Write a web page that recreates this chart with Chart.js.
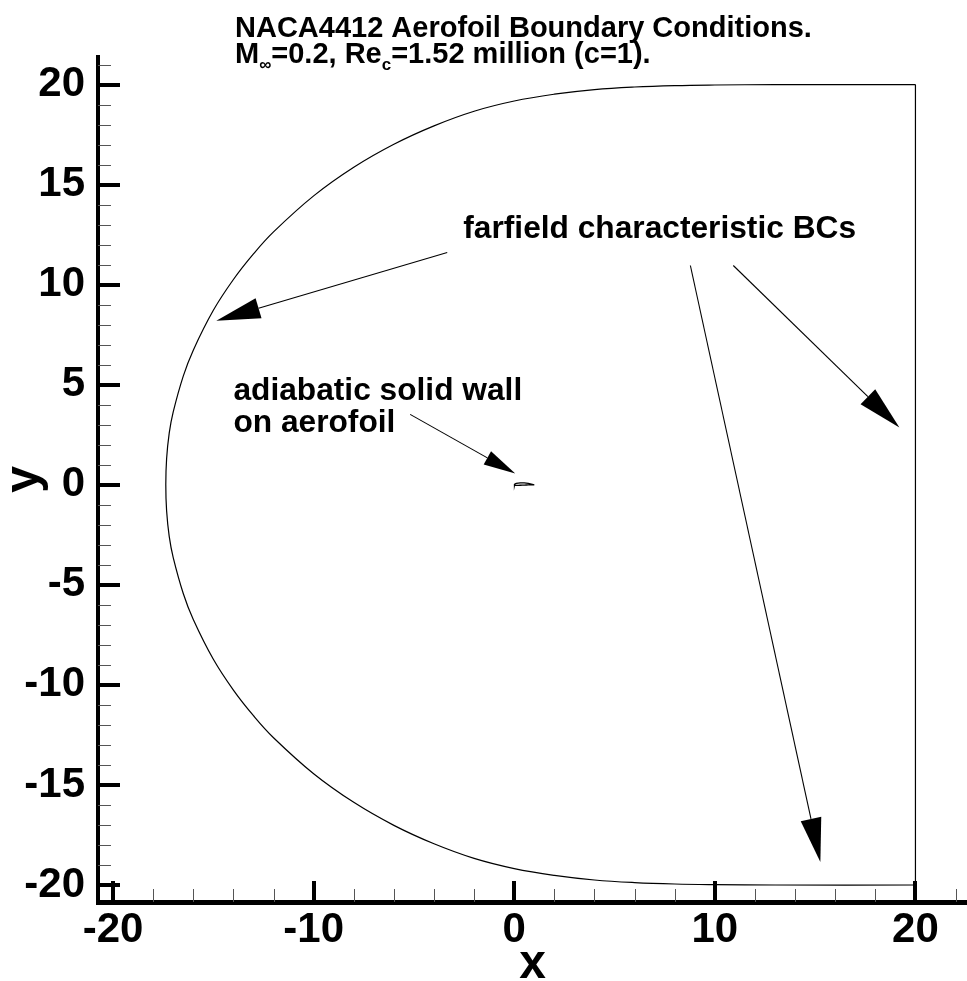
<!DOCTYPE html>
<html><head><meta charset="utf-8">
<script src="https://cdn.jsdelivr.net/npm/chart.js@4.4.0/dist/chart.umd.min.js"></script>
<style>html,body{margin:0;padding:0;background:#fff;overflow:hidden}</style>
</head><body>
<canvas id="c" width="967" height="981" style="display:block;width:967px;height:981px"></canvas>
<script>
// ---- data ----
const farfieldX = [20, 13, 10, 8, 6, 4, 2, 0, -2, -4, -6, -8, -10, -12, -13, -14, -15, -16, -16.5, -17, -17.2, -17.33, -17.37,
                   -17.33, -17.2, -17, -16.5, -16, -15, -14, -13, -12, -10, -8, -6, -4, -2, 0, 2, 4, 6, 8, 10, 13, 20];
const farfieldY = [20, 20, 19.98, 19.95, 19.88, 19.75, 19.52, 19.18, 18.67, 17.94, 17.02, 15.87, 14.44, 12.64, 11.54, 10.26, 8.72, 6.73, 5.43, 3.64, 2.58, 1.3, 0,
                   -1.3, -2.58, -3.64, -5.43, -6.73, -8.72, -10.26, -11.54, -12.64, -14.44, -15.87, -17.02, -17.94, -18.67, -19.18, -19.52, -19.75, -19.88, -19.95, -19.98, -20, -20];
const outflowX = [20, 20];
const outflowY = [-20, 20];
const airfoilX = [1, 0.9, 0.8, 0.7, 0.6, 0.5, 0.4, 0.3, 0.2, 0.1, 0.05, 0.025, 0.0125, 0, 0.0125, 0.025, 0.05, 0.1, 0.2, 0.3, 0.4, 0.5, 0.6, 0.7, 0.8, 0.9, 1];
const airfoilY = [0.0013, 0.0271, 0.0489, 0.0669, 0.0814, 0.0919, 0.0976, 0.098, 0.088, 0.0659, 0.0473, 0.0339, 0.0244, 0, -0.0143, -0.0195, -0.0249, -0.0286, -0.0274, -0.0226, -0.018, -0.014, -0.01, -0.0065, -0.0039, -0.0022, -0.0013];

const xMajorTicks = [-20, -10, 0, 10, 20];
const xMinorTicks = [-18, -16, -14, -12, -8, -6, -4, -2, 2, 4, 6, 8, 12, 14, 16, 18, 22];
const yMajorTicks = [-20, -15, -10, -5, 0, 5, 10, 15, 20];
const yMinorTicks = [-19, -18, -17, -16, -14, -13, -12, -11, -9, -8, -7, -6, -4, -3, -2, -1, 1, 2, 3, 4, 6, 7, 8, 9, 11, 12, 13, 14, 16, 17, 18, 19, 21];

const arrowStartX = [-3.34, 8.78, 10.92, -5.19];
const arrowStartY = [11.61, 10.96, 10.96, 3.52];
const arrowEndX = [-14.85, 15.26, 19.2, 0.05];
const arrowEndY = [8.2, -18.85, 2.87, 0.56];

const annotationTexts = ['farfield characteristic BCs', 'adiabatic solid wall', 'on aerofoil'];
const annotationX = [-2.54, -14.0, -14.0];
const annotationY = [12.31, 4.22, 2.62];

const titleLine1 = 'NACA4412 Aerofoil Boundary Conditions.';
const titleLine2 = [['M', false], ['\u221E', true], ['=0.2, Re', false], ['c', true], ['=1.52 million (c=1).', false]];

const FAM = '"Liberation Sans", Arial, Helvetica, sans-serif';

function pts(xs, ys) { return xs.map((v, i) => ({x: v, y: ys[i]})); }

const overlay = {
  id: 'overlay',
  afterDraw(chart) {
    const {ctx, chartArea: a, scales: {x, y}} = chart;
    ctx.save();
    // minor ticks (inward)
    ctx.strokeStyle = '#555';
    ctx.lineWidth = 1;
    ctx.beginPath();
    xMinorTicks.forEach(v => { const p = Math.round(x.getPixelForValue(v)) + 0.5; ctx.moveTo(p, a.bottom); ctx.lineTo(p, a.bottom - 13); });
    yMinorTicks.forEach(v => { const p = Math.round(y.getPixelForValue(v)) + 0.5; ctx.moveTo(a.left, p); ctx.lineTo(a.left + 13, p); });
    ctx.stroke();
    // major ticks
    ctx.strokeStyle = '#000';
    ctx.lineWidth = 4;
    ctx.beginPath();
    xMajorTicks.forEach(v => { const p = Math.round(x.getPixelForValue(v)); ctx.moveTo(p, a.bottom); ctx.lineTo(p, a.bottom - 21); });
    yMajorTicks.forEach(v => { const p = Math.round(y.getPixelForValue(v)); ctx.moveTo(a.left, p); ctx.lineTo(a.left + 22, p); });
    ctx.stroke();

    // arrows
    arrowStartX.forEach((sx, i) => {
      const x0 = x.getPixelForValue(sx), y0 = y.getPixelForValue(arrowStartY[i]);
      const x1 = x.getPixelForValue(arrowEndX[i]), y1 = y.getPixelForValue(arrowEndY[i]);
      const ang = Math.atan2(y1 - y0, x1 - x0);
      const hl = i === 3 ? 32 : 44, hw = i === 3 ? 7.5 : 10.5;
      const bx = x1 - hl * Math.cos(ang), by = y1 - hl * Math.sin(ang);
      ctx.strokeStyle = '#000'; ctx.lineWidth = 1.1;
      ctx.beginPath(); ctx.moveTo(x0, y0); ctx.lineTo(bx, by); ctx.stroke();
      ctx.fillStyle = '#000';
      ctx.beginPath();
      ctx.moveTo(x1, y1);
      ctx.lineTo(bx + hw * Math.sin(ang), by - hw * Math.cos(ang));
      ctx.lineTo(bx - hw * Math.sin(ang), by + hw * Math.cos(ang));
      ctx.closePath(); ctx.fill();
    });

    // annotation texts
    ctx.fillStyle = '#000';
    ctx.textBaseline = 'alphabetic';
    ctx.textAlign = 'left';
    ctx.font = 'bold 31.7px ' + FAM;
    annotationTexts.forEach((t, i) => {
      ctx.fillText(t, x.getPixelForValue(annotationX[i]), y.getPixelForValue(annotationY[i]));
    });

    // title
    ctx.font = 'bold 29px ' + FAM;
    ctx.fillText(titleLine1, 235, 36.5);
    let cx = 235;
    titleLine2.forEach(([t, sub]) => {
      ctx.font = (sub ? 'bold 17px ' : 'bold 29px ') + FAM;
      ctx.fillText(t, cx, sub ? 70 : 63);
      cx += ctx.measureText(t).width;
    });
    ctx.restore();
  }
};

new Chart(document.getElementById('c'), {
  type: 'scatter',
  data: {
    datasets: [
      {data: pts(farfieldX, farfieldY), showLine: true, borderColor: '#000', borderWidth: 1.2, pointRadius: 0, tension: 0.4, fill: false},
      {data: pts(outflowX, outflowY), showLine: true, borderColor: '#000', borderWidth: 1.2, pointRadius: 0, tension: 0, fill: false},
      {data: pts(airfoilX, airfoilY), showLine: true, borderColor: '#000', borderWidth: 1.3, pointRadius: 0, tension: 0, fill: false}
    ]
  },
  options: {
    responsive: false,
    animation: false,
    devicePixelRatio: 1,
    layout: {padding: {top: 57, left: 0, right: 0, bottom: 0}},
    plugins: {legend: {display: false}, tooltip: {enabled: false}, title: {display: false}},
    scales: {
      x: {
        type: 'linear', position: 'bottom', min: -20.75, max: 22.57,
        grid: {display: false, drawTicks: false},
        border: {display: true, width: 5, color: '#000'},
        ticks: {color: '#000', font: {family: FAM, size: 42, weight: 'bold'}, padding: 3, autoSkip: false, maxRotation: 0, callback: v => String(v)},
        afterBuildTicks: s => { s.ticks = xMajorTicks.map(v => ({value: v})); },
        afterFit: s => { s.height = 79; },
        title: {display: true, text: 'x', color: '#000', font: {family: FAM, size: 48, weight: 'bold'}, padding: {top: 0, bottom: -13}}
      },
      y: {
        type: 'linear', position: 'left', min: -20.85, max: 21.38,
        grid: {display: false, drawTicks: false},
        border: {display: true, width: 4, color: '#000'},
        ticks: {color: '#000', font: {family: FAM, size: 42, weight: 'bold'}, padding: 13, autoSkip: false, callback: v => String(v)},
        afterBuildTicks: s => { s.ticks = yMajorTicks.map(v => ({value: v})); },
        afterFit: s => { s.width = 98; },
        title: {display: true, text: 'y', color: '#000', font: {family: FAM, size: 48, weight: 'bold'}, padding: {top: -4, bottom: 0}}
      }
    }
  },
  plugins: [overlay]
});
</script>
</body></html>
